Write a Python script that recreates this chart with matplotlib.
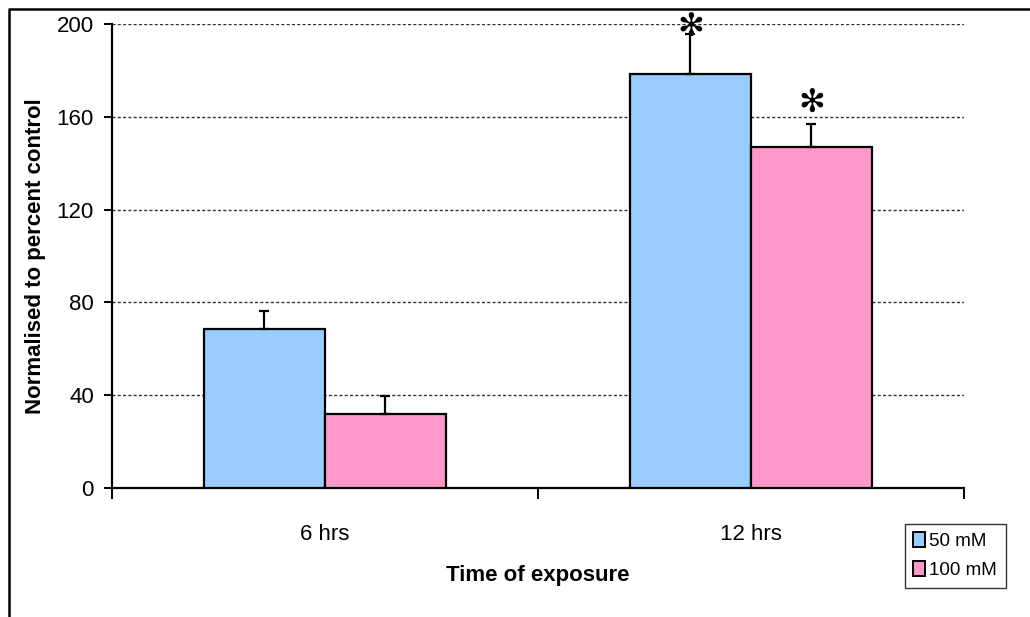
import matplotlib
matplotlib.use("Agg")
import matplotlib.pyplot as plt
from matplotlib.lines import Line2D
from matplotlib.ticker import FixedLocator
import numpy as np

# Data
categories = ["6 hrs", "12 hrs"]
series_names = ["50 mM", "100 mM"]
values_50 = [68.5, 178.5]
values_100 = [31.8, 147.0]
err_50 = [8.0, 17.0]
err_100 = [8.0, 10.0]
significant_50 = [False, True]
significant_100 = [False, True]
yticks = [0, 40, 80, 120, 160, 200]

colors = ["#99CCFF", "#FF99CC"]
font = ["Liberation Sans", "DejaVu Sans"]
# gap between error bar top and significance star, per series
star_gap = [3, 9]

fig = plt.figure(figsize=(10.30, 6.17), dpi=100)
ax = fig.add_axes([0.1087, 0.2091, 0.8272, 0.7520])

x = np.arange(len(categories))
width = 0.284

series = [(values_50, err_50, significant_50), (values_100, err_100, significant_100)]
for i, (vals, errs, sig) in enumerate(series):
    pos = x + (i - 0.5) * width
    ax.bar(pos, vals, width, color=colors[i], edgecolor="black", linewidth=1.6,
           label=series_names[i], zorder=3)
    ax.errorbar(pos, vals, yerr=[np.zeros(len(vals)), errs], fmt="none",
                ecolor="black", elinewidth=1.6, capsize=3.5, capthick=1.6, zorder=4)
    for p, v, e, s in zip(pos, vals, errs, sig):
        if s:
            ax.text(p, v + e + star_gap[i], "\u273B", ha="center", va="center",
                    fontsize=23, fontweight="bold", family="DejaVu Sans",
                    color="black", zorder=5)

ax.set_xlim(-0.5, 1.5)
ax.set_ylim(0, 200)

# Category boundaries carry the tick marks, labels sit at category centres
ax.xaxis.set_major_locator(FixedLocator([-0.5, 0.5, 1.5]))
ax.xaxis.set_major_formatter(plt.NullFormatter())
ax.xaxis.set_minor_locator(FixedLocator(list(x)))
ax.set_xticklabels(categories, minor=True)
ax.tick_params(axis="x", which="major", direction="out", length=8, width=1.4, color="black")
ax.tick_params(axis="x", which="minor", length=0, pad=26, labelsize=16)

ax.set_yticks(yticks)
ax.tick_params(axis="y", direction="out", length=6, width=1.4, pad=7, labelsize=16)

for lab in ax.get_xticklabels(minor=True) + ax.get_yticklabels():
    lab.set_family(font)

ax.grid(axis="y", linestyle=(0, (2.2, 1.6)), color="#333333", linewidth=1.0, zorder=0)
ax.set_axisbelow(True)

for side in ["top", "right"]:
    ax.spines[side].set_visible(False)
ax.spines["left"].set_linewidth(1.6)
ax.spines["bottom"].set_linewidth(1.6)

ax.set_ylabel("Normalised to percent control", fontsize=16, fontweight="bold",
              family=font, labelpad=8)
ax.set_xlabel("Time of exposure", fontsize=16, fontweight="bold",
              family=font, labelpad=14)

leg = fig.legend(loc="upper left", bbox_to_anchor=(905 / 1030, 1 - 524 / 617),
                 prop={"family": font, "size": 13.5}, frameon=True, fancybox=False,
                 edgecolor="black", handlelength=0.6, handleheight=0.8,
                 handletextpad=0.25, borderpad=0.45, labelspacing=0.6,
                 borderaxespad=0)
leg.get_frame().set_linewidth(1.0)
for h in leg.legend_handles:
    h.set_linewidth(1.4)

# Outer chart frame (left and top edges)
fig.add_artist(Line2D([9 / 1030, 9 / 1030, 1.0], [0.0, 1 - 9 / 617, 1 - 9 / 617],
                      transform=fig.transFigure, color="black", linewidth=1.8))

fig.savefig("out.png", dpi=100)
